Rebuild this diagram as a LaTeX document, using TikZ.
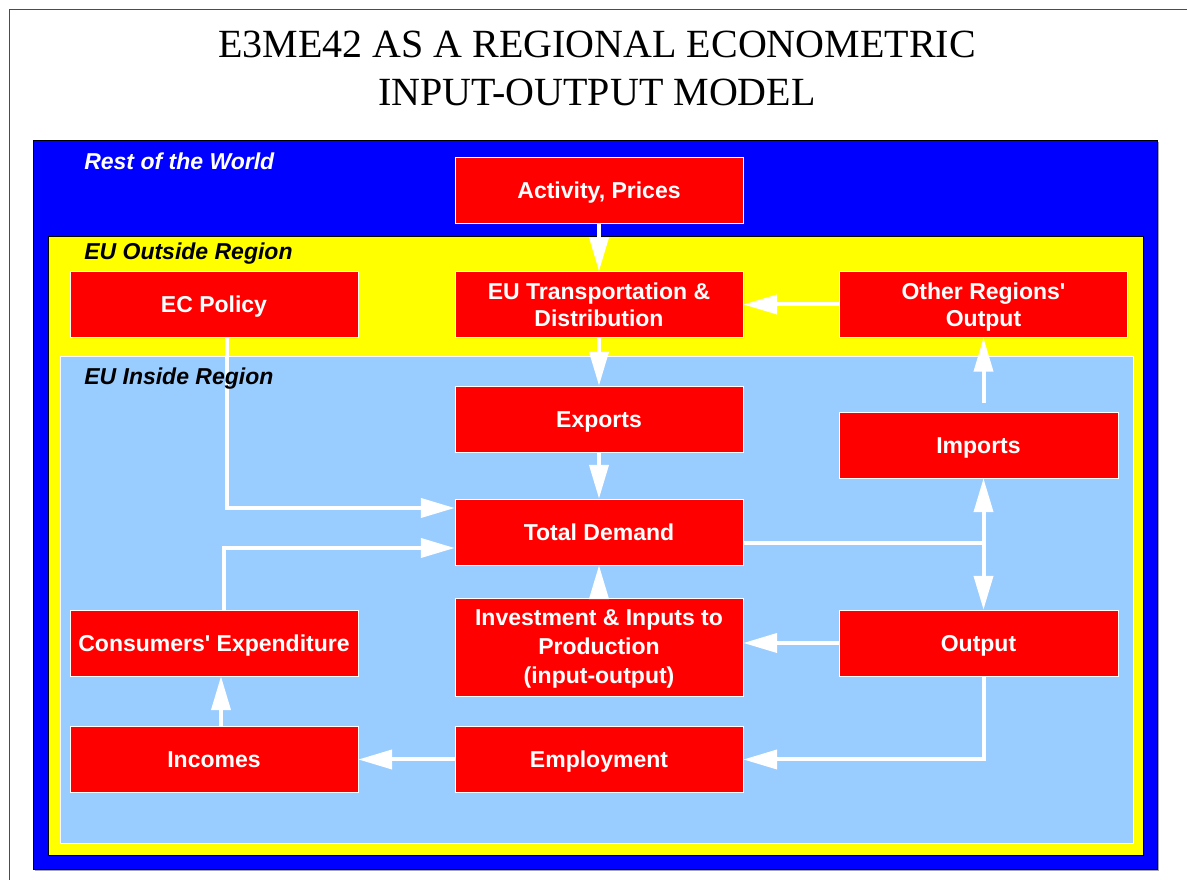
\documentclass[tikz,border=0pt]{standalone}
\usepackage{fontspec}
\setmainfont{Liberation Serif}
\setsansfont{Liberation Sans}
\usetikzlibrary{arrows.meta}

\definecolor{rowblue}{RGB}{0,0,255}
\definecolor{euyellow}{RGB}{255,255,0}
\definecolor{insideblue}{RGB}{153,204,255}
\definecolor{boxred}{RGB}{255,0,0}

\begin{document}
\begin{tikzpicture}[x=1pt,y=1pt,>={Triangle[length=34pt,width=19pt]},
                    semithick]
  \tikzstyle{block}=[rectangle,fill=boxred,draw=white,thin,text=white,
                     minimum width=288pt,minimum height=66pt,inner sep=2pt,align=center,
                     text height=16.5pt,text depth=0pt,
                     font=\sffamily\bfseries\fontsize{23}{27}\selectfont]
  \tikzstyle{multi}=[text height={}]
  \tikzstyle{flow}=[->,draw=white,line width=4pt]
  \tikzstyle{region}=[anchor=base west,inner sep=0pt,
                      font=\sffamily\bfseries\itshape\fontsize{23}{27}\selectfont]

  \useasboundingbox (0,0) rectangle (1187,880);
  \draw[gray!60!black,thick] (9,-20) rectangle (1220,871);

  \node[font=\fontsize{40}{48}\selectfont,align=center] (title) at (597,812)
    {E3ME42 AS A REGIONAL ECONOMETRIC\\INPUT-OUTPUT MODEL};

  % nested regions
  \fill[gray!70]                 (35,9) rectangle (1159,738);
  \draw[black,fill=rowblue]      (33,11) rectangle (1157,740);
  \draw[black,fill=euyellow]     (48,25) rectangle (1143,644);
  \draw[white,fill=insideblue]   (60,37) rectangle (1133,524);

  \node[block] (act)   at (599,690)   {Activity, Prices};
  \node[block,multi] (trans) at (599,575.5) {EU Transportation \&\\Distribution};
  \node[block,multi] (other) at (983.5,575.5) {Other Regions\textquotesingle\\Output};
  \node[block] (ecp)   at (214,575.5) {EC Policy};
  \node[block] (exp)   at (599,461)   {Exports};
  \node[block,minimum width=279pt] (imp) at (978.5,435) {Imports};
  \node[block] (dem)   at (599,348)   {Total Demand};
  \node[block,multi,minimum height=98pt,
        font=\sffamily\bfseries\fontsize{23}{29}\selectfont] (inv) at (599,233)
    {Investment \& Inputs to\\Production\\(input-output)};
  \node[block] (cons)  at (214,237)   {Consumers\textquotesingle{} Expenditure};
  \node[block,minimum width=279pt] (out) at (978.5,237) {Output};
  \node[block] (inc)   at (214,120.5) {Incomes};
  \node[block] (emp)   at (599,120.5) {Employment};

  \coordinate (split) at (983.5,337);

  \draw[flow] (act) -- (trans);
  \draw[flow] (trans) -- (exp);
  \draw[flow] (other) -- (trans);
  \draw[flow] (exp) -- (dem);
  \draw[flow] (inv) -- (dem);
  \draw[flow] ([xshift=13pt]ecp.south) |- ([yshift=24pt]dem.west);
  \draw[flow] ([xshift=10pt]cons.north) |- ([yshift=-16pt]dem.west);
  \draw[white,line width=4pt] (dem.east |- split) -- (split);
  \draw[flow] (split) -- (split |- imp.south);
  \draw[flow] (split) -- (split |- out.north);
  \draw[flow] ([yshift=9pt]split |- imp.north) -- (split |- other.south);
  \draw[flow] (out.west) -- (out.west -| inv.east);
  \draw[flow] (split |- out.south) |- (emp);
  \draw[flow] (emp) -- (inc);
  \draw[flow] ([xshift=7pt]inc.north) -- ([xshift=7pt]cons.south);

  % region names go on top of the connectors
  \node[region,text=white] (rowlbl) at (84,710) {Rest of the World};
  \node[region]            (outlbl) at (84,620) {EU Outside Region};
  \node[region]            (inlbl)  at (84,495) {EU Inside Region};
\end{tikzpicture}
\end{document}
